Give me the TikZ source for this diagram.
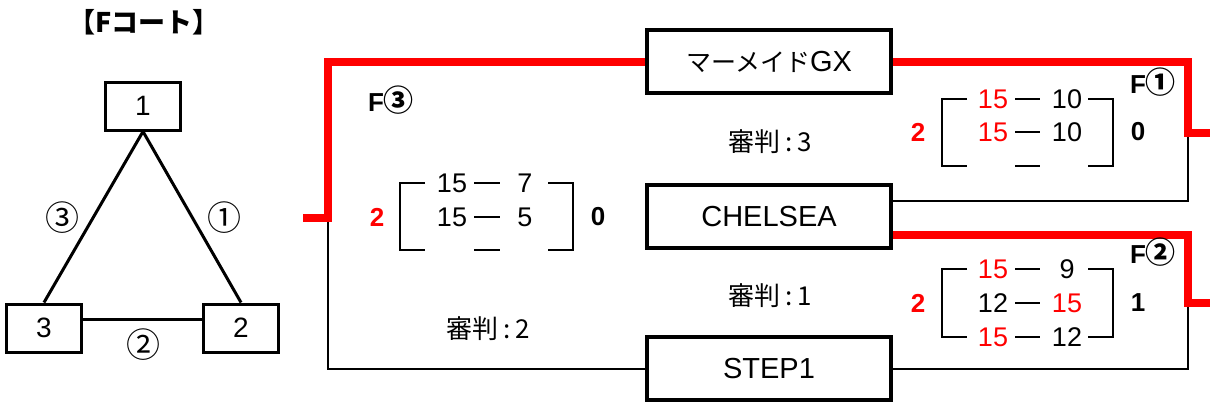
\documentclass[tikz,border=0pt]{standalone}
\usepackage{fontspec}
\setmainfont{Liberation Sans}
\newfontfamily\jp{Noto Sans CJK JP}

\begin{document}
\begin{tikzpicture}[x=0.5pt,y=-0.5pt,
    court/.style={draw,line width=1.5pt,minimum width=37.5pt,minimum height=24pt,inner sep=0pt,font=\fontsize{14}{16}\selectfont},
    team/.style={draw,line width=2.2pt,minimum width=122pt,minimum height=31.5pt,inner sep=0pt,font=\fontsize{14.5}{16}\selectfont},
    win/.style={red,line width=4pt},
    lose/.style={black,line width=1pt},
    pts/.style={inner sep=0pt,font=\fontsize{13.5}{15}\selectfont},
    games/.style={inner sep=0pt,font=\bfseries\fontsize{13}{15}\selectfont},
    brk/.style={line width=1.2pt},
    refe/.style={inner sep=0pt,font=\jp\fontsize{13}{15}\selectfont},
    circ/.style={inner sep=0pt,font=\jp\fontsize{17}{19}\selectfont}]

    \useasboundingbox (0,0) rectangle (1210,408);

    % court plan
    \node[inner sep=0pt,font=\jp\bfseries\fontsize{13.5}{15}\selectfont] (title) at (144,22) {【Fコート】};
    \node[court] (c1) at (143,106) {1};
    \node[court] (c2) at (241,328) {2};
    \node[court] (c3) at (44,328) {3};
    \draw[line width=1.5pt] (c1.south) -- (c3.north);
    \draw[line width=1.5pt] (c1.south) -- (c2.north);
    \draw[line width=1.5pt] ([yshift=4.25pt]c3.east) -- ([yshift=4.25pt]c2.west);
    \node[circ] (m1) at (224,218) {①};
    \node[circ] (m2) at (143,345) {②};
    \node[circ] (m3) at (62,218) {③};

    % teams
    \node[team] (mgx) at (769,61.5) {{\jp\fontsize{12.5}{14}\selectfont マーメイド}GX};
    \node[team] (chl) at (769,216.5) {CHELSEA};
    \node[team] (stp) at (769,368.5) {STEP1};

    \coordinate (j1) at (1188,133);
    \coordinate (w1) at (1210,133);
    \coordinate (j2) at (1188,303);
    \coordinate (w2) at (1210,303);
    \coordinate (j3) at (328,218);
    \coordinate (w3) at (303,218);

    \draw[lose] ([yshift=8pt]chl.east) -| (j1);
    \draw[lose] (stp.east) -| (j2);
    \draw[lose] (j3) |- (stp.west);
    \draw[win] (mgx.east) -| (j1) -- (w1);
    \draw[win] ([yshift=-9pt]chl.east) -| (j2) -- (w2);
    \draw[win] (mgx.west) -| (j3) -- (w3);

    \node[games] (f1) at (1153,82) {F{\jp\fontsize{15}{17}\selectfont ①}};
    \node[games] (f2) at (1153,252) {F{\jp\fontsize{15}{17}\selectfont ②}};
    \node[games] (f3) at (391,100) {F{\jp\fontsize{15}{17}\selectfont ③}};

    \node[refe] (r3) at (770,142) {審判\kern2.5pt:\kern2.5pt3};
    \node[refe] (r1) at (770,296) {審判\kern2.5pt:\kern2.5pt1};
    \node[refe] (r2) at (488,329) {審判\kern2.5pt:\kern2.5pt2};

    % F3 scores
    \node[games,red] (g3l) at (377,217) {2};
    \node[games] (g3r) at (598,217) {0};
    \node[pts] (p3a) at (452,183) {15};
    \node[pts] (q3a) at (525,183) {7};
    \node[pts] (p3b) at (452,217) {15};
    \node[pts] (q3b) at (525,217) {5};
    \draw[brk] (425,183) -- (400,183) -- (400,250) -- (425,250);
    \draw[brk] (548,183) -- (573,183) -- (573,250) -- (548,250);
    \draw[brk] (474,183) -- (500,183);
    \draw[brk] (474,217) -- (500,217);
    \draw[brk] (474,250) -- (500,250);

    % F1 scores
    \node[games,red] (g1l) at (918,132) {2};
    \node[games] (g1r) at (1138,132) {0};
    \node[pts,red] (p1a) at (993,99) {15};
    \node[pts] (q1a) at (1067,99) {10};
    \node[pts,red] (p1b) at (993,132) {15};
    \node[pts] (q1b) at (1067,132) {10};
    \draw[brk] (967,99) -- (942,99) -- (942,166) -- (967,166);
    \draw[brk] (1088,99) -- (1113,99) -- (1113,166) -- (1088,166);
    \draw[brk] (1015,99) -- (1040,99);
    \draw[brk] (1015,132) -- (1040,132);
    \draw[brk] (1015,166) -- (1040,166);

    % F2 scores
    \node[games,red] (g2l) at (918,303) {2};
    \node[games] (g2r) at (1138,303) {1};
    \node[pts,red] (p2a) at (993,269) {15};
    \node[pts] (q2a) at (1067,269) {9};
    \node[pts] (p2b) at (993,303) {12};
    \node[pts,red] (q2b) at (1067,303) {15};
    \node[pts,red] (p2c) at (993,337) {15};
    \node[pts] (q2c) at (1067,337) {12};
    \draw[brk] (967,269) -- (942,269) -- (942,337) -- (967,337);
    \draw[brk] (1088,269) -- (1113,269) -- (1113,337) -- (1088,337);
    \draw[brk] (1015,269) -- (1040,269);
    \draw[brk] (1015,303) -- (1040,303);
    \draw[brk] (1015,337) -- (1040,337);

\end{tikzpicture}
\end{document}
